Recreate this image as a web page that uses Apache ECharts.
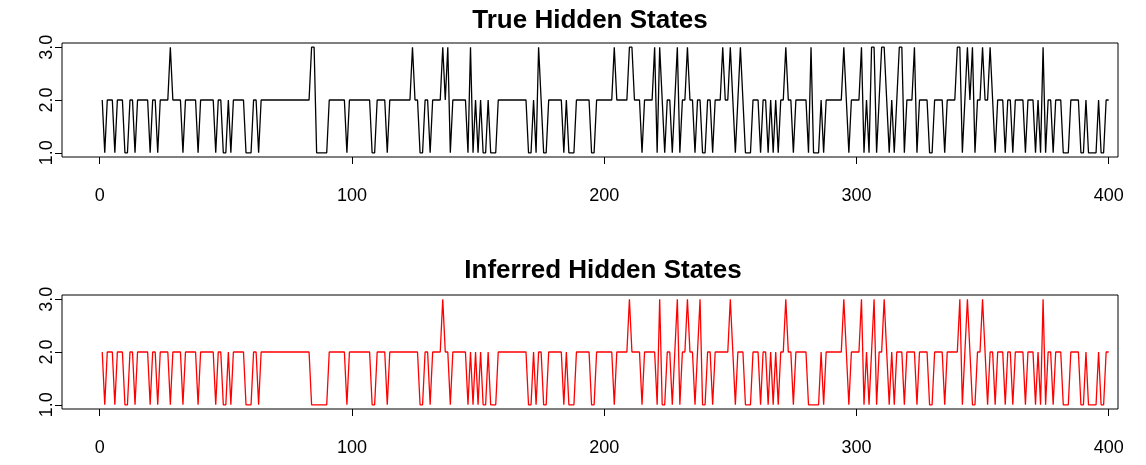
<!DOCTYPE html>
<html>
<head>
<meta charset="utf-8">
<script src="https://cdn.jsdelivr.net/npm/echarts@6/dist/echarts.min.js"></script>
<style>
  html, body { margin: 0; padding: 0; background: #fff; }
  #chart { width: 1146px; height: 465px; }
</style>
</head>
<body>
<div id="chart"></div>
<script>
// Hidden state sequences, one value per time step (t = 1..400)
const trueStates = [
  2,1,2,2,2,1,2,2,2,1,1,2,2,1,2,2,2,2,2,1,
  2,2,1,2,2,2,2,3,2,2,2,2,1,2,2,2,2,2,1,2,
  2,2,2,2,2,1,2,2,1,1,2,1,2,2,2,2,2,1,1,1,
  2,2,1,2,2,2,2,2,2,2,2,2,2,2,2,2,2,2,2,2,
  2,2,2,3,3,1,1,1,1,1,2,2,2,2,2,2,2,1,2,2,
  2,2,2,2,2,2,2,1,1,2,2,2,2,1,2,2,2,2,2,2,
  2,2,2,3,2,2,1,1,2,2,1,2,2,2,2,3,2,3,1,2,
  2,2,2,2,2,1,3,1,2,1,2,1,1,2,1,1,1,2,2,2,
  2,2,2,2,2,2,2,2,2,1,1,2,1,3,2,1,1,2,2,2,
  2,2,2,1,2,1,1,1,2,2,2,2,2,2,1,1,2,2,2,2,
  2,2,2,3,2,2,2,2,2,3,3,2,2,2,1,2,2,2,2,3,
  1,3,2,1,2,2,1,2,3,1,2,2,3,2,2,1,2,2,1,1,
  2,2,1,2,2,2,3,2,2,3,2,1,2,3,2,1,1,1,2,2,
  2,1,2,2,1,2,1,2,1,2,2,3,2,2,1,2,2,2,2,2,
  1,3,1,1,1,2,1,2,2,2,2,2,2,2,3,2,1,2,2,2,
  2,3,1,2,1,3,3,1,2,3,3,2,1,2,1,2,3,3,1,2,
  2,2,3,1,2,2,2,2,1,1,2,2,2,2,1,2,2,2,2,3,
  3,1,2,3,2,3,1,2,2,3,2,2,3,2,1,2,2,2,1,2,
  2,1,2,2,2,2,1,2,2,2,1,2,1,3,1,2,2,1,2,2,
  2,1,1,1,2,2,2,2,1,1,2,1,1,1,1,2,1,1,2,2
];

const inferredStates = [
  2,1,2,2,2,1,2,2,2,1,1,2,2,1,2,2,2,2,2,1,
  2,2,1,2,2,2,2,1,2,2,2,2,1,2,2,2,2,2,1,2,
  2,2,2,2,2,1,2,2,1,1,2,1,2,2,2,2,2,1,1,1,
  2,2,1,2,2,2,2,2,2,2,2,2,2,2,2,2,2,2,2,2,
  2,2,2,1,1,1,1,1,1,1,2,2,2,2,2,2,2,1,2,2,
  2,2,2,2,2,2,2,1,1,2,2,2,2,1,2,2,2,2,2,2,
  2,2,2,2,2,2,1,1,2,2,1,2,2,2,2,3,2,2,1,2,
  2,2,2,2,2,1,2,1,2,1,2,1,1,2,1,1,1,2,2,2,
  2,2,2,2,2,2,2,2,2,1,1,2,1,2,2,1,1,2,2,2,
  2,2,2,1,2,1,1,1,2,2,2,2,2,2,1,1,2,2,2,2,
  2,2,2,1,2,2,2,2,2,3,2,2,2,2,1,2,2,2,2,2,
  1,3,1,1,2,2,1,2,3,1,2,2,3,2,2,1,2,3,1,1,
  2,2,1,2,2,2,2,2,2,3,2,1,2,2,2,1,1,1,2,2,
  2,1,2,2,1,2,1,2,1,2,2,3,2,2,1,2,2,2,2,2,
  1,1,1,1,1,2,1,2,2,2,2,2,2,2,3,2,1,2,2,2,
  2,3,1,2,1,2,3,1,2,2,3,2,1,2,1,2,2,2,1,2,
  2,2,2,1,2,2,2,2,1,1,2,2,2,2,1,2,2,2,2,2,
  3,1,2,3,2,1,1,2,2,3,2,1,2,2,1,2,2,2,1,2,
  2,1,2,2,2,2,1,2,2,2,1,2,1,3,1,2,2,1,2,2,
  2,1,1,1,2,2,2,2,1,1,2,1,1,1,1,2,1,1,2,2
];

const xTicks = [0, 100, 200, 300, 400];
const yTicks = [1, 2, 3];
const yTickLabels = ['1.0', '2.0', '3.0'];
const panelTitles = ['True Hidden States', 'Inferred Hidden States'];
const lineColors = ['#000000', '#ff0000'];

const FONT = '"Liberation Sans", Arial, sans-serif';

function toPoints(states) {
  return states.map((v, k) => [k + 1, v]);
}

function makeXAxis(gridIndex) {
  return {
    type: 'value',
    gridIndex: gridIndex,
    position: 'bottom',
    min: -14.95,
    max: 403.7,
    splitLine: { show: false },
    axisLine: { show: false, onZero: false },
    axisTick: {
      show: true,
      customValues: xTicks,
      length: 7,
      inside: false,
      lineStyle: { color: '#000', width: 1 }
    },
    axisLabel: {
      show: true,
      customValues: xTicks,
      margin: 30,
      color: '#000',
      fontFamily: FONT,
      fontSize: 18
    }
  };
}

function makeYAxis(gridIndex) {
  return {
    type: 'value',
    gridIndex: gridIndex,
    position: 'left',
    min: 0.92,
    max: 3.08,
    splitLine: { show: false },
    axisLine: { show: false, onZero: false },
    axisTick: {
      show: true,
      customValues: yTicks,
      length: 7,
      inside: false,
      lineStyle: { color: '#000', width: 1 }
    },
    axisLabel: {
      show: true,
      customValues: yTicks,
      rotate: 90,
      margin: 6,
      align: 'center',
      verticalAlign: 'bottom',
      color: '#000',
      fontFamily: FONT,
      fontSize: 18,
      formatter: function (v) {
        const k = yTicks.indexOf(v);
        return k >= 0 ? yTickLabels[k] : '';
      }
    }
  };
}

const gridBox = { show: true, borderColor: '#000', borderWidth: 1, backgroundColor: 'transparent' };

const chart = echarts.init(document.getElementById('chart'), null, { renderer: 'canvas' });

chart.setOption({
  animation: false,
  backgroundColor: '#fff',
  title: [
    {
      text: panelTitles[0],
      left: 585,
      top: 3,
      textAlign: 'center',
      textStyle: { fontFamily: FONT, fontWeight: 'bold', fontSize: 26, color: '#000' }
    },
    {
      text: panelTitles[1],
      left: 598,
      top: 253,
      textAlign: 'center',
      textStyle: { fontFamily: FONT, fontWeight: 'bold', fontSize: 26, color: '#000' }
    }
  ],
  grid: [
    Object.assign({ left: 62, top: 43, width: 1056, height: 114 }, gridBox),
    Object.assign({ left: 62, top: 295, width: 1056, height: 114 }, gridBox)
  ],
  xAxis: [makeXAxis(0), makeXAxis(1)],
  yAxis: [makeYAxis(0), makeYAxis(1)],
  series: [
    {
      type: 'line',
      xAxisIndex: 0,
      yAxisIndex: 0,
      data: toPoints(trueStates),
      showSymbol: false,
      symbol: 'none',
      lineStyle: { color: lineColors[0], width: 1.3 },
      silent: true
    },
    {
      type: 'line',
      xAxisIndex: 1,
      yAxisIndex: 1,
      data: toPoints(inferredStates),
      showSymbol: false,
      symbol: 'none',
      lineStyle: { color: lineColors[1], width: 1.3 },
      silent: true
    }
  ]
});
</script>
</body>
</html>
